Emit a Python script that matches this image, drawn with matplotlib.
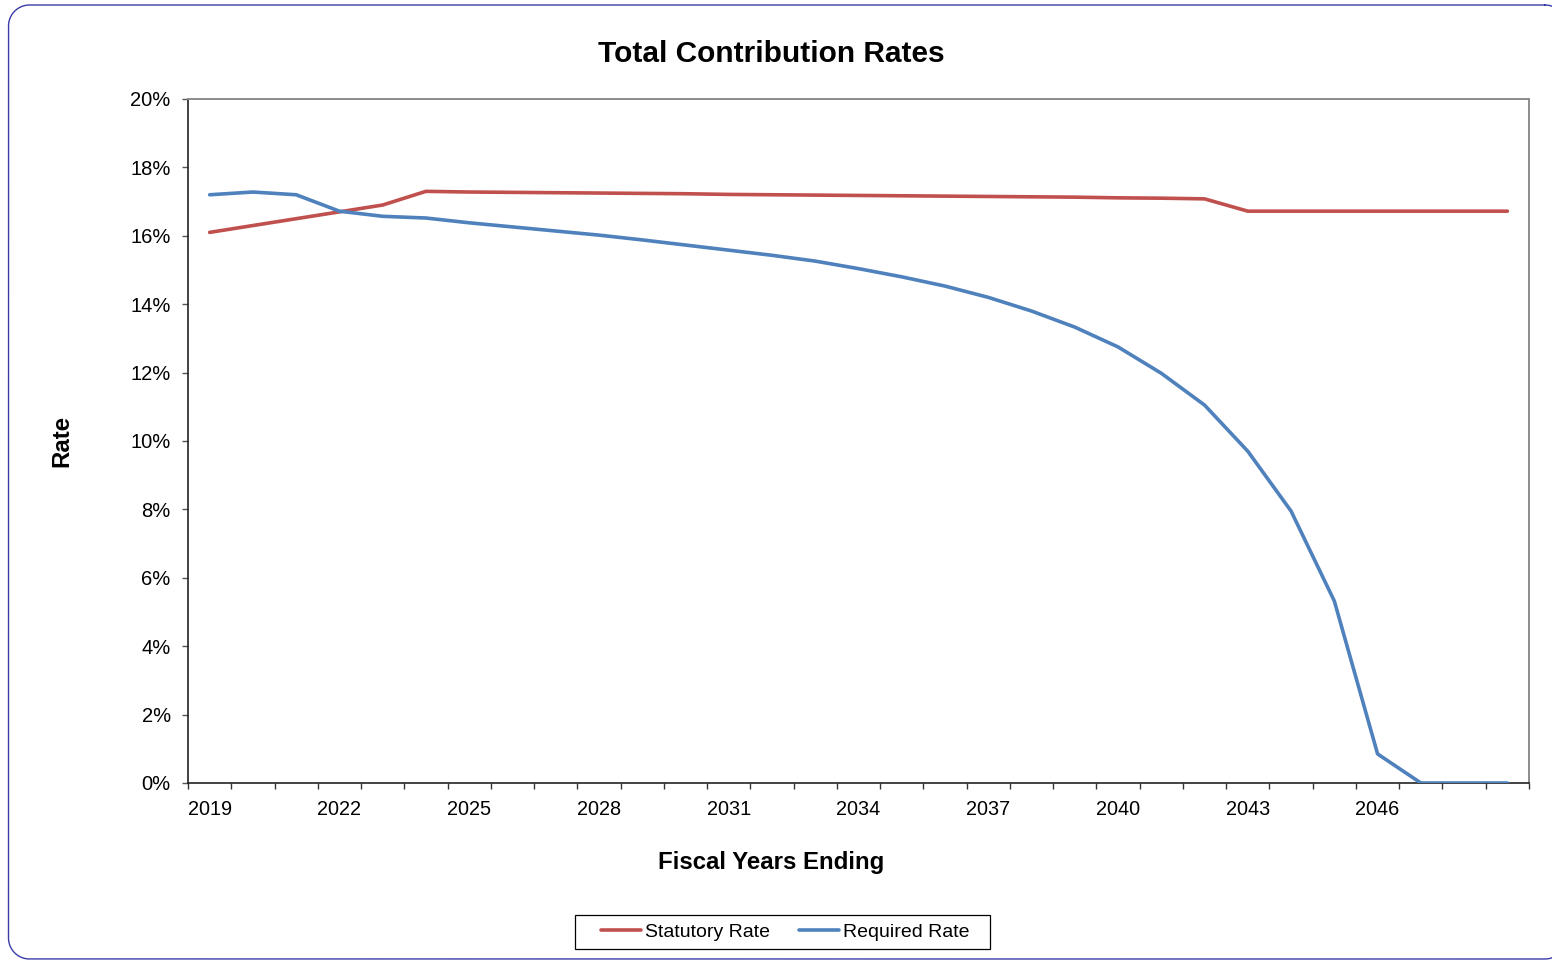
import matplotlib
matplotlib.use("Agg")
import matplotlib.pyplot as plt
from matplotlib.patches import Rectangle
from matplotlib.ticker import FixedLocator, FuncFormatter
import numpy as np

plt.rcParams['font.family'] = ['Liberation Sans', 'DejaVu Sans']

years = list(range(2019, 2050))
statutory_rate = [16.1, 16.3, 16.5, 16.7, 16.9, 17.3, 17.28, 17.27, 17.26, 17.25, 17.24,
                  17.23, 17.21, 17.2, 17.19, 17.18, 17.17, 17.16, 17.15, 17.14, 17.13,
                  17.11, 17.1, 17.08, 16.72, 16.72, 16.72, 16.72, 16.72, 16.72, 16.72]
required_rate = [17.2, 17.28, 17.2, 16.72, 16.57, 16.52, 16.38, 16.26, 16.14, 16.02, 15.88,
                 15.73, 15.58, 15.43, 15.26, 15.04, 14.8, 14.53, 14.2, 13.8, 13.33,
                 12.75, 11.98, 11.05, 9.7, 7.95, 5.32, 0.85, 0.0, 0.0, 0.0]
series_names = ["Statutory Rate", "Required Rate"]
tick_years = list(range(2019, 2047, 3))

W, H = 1552, 961
fig = plt.figure(figsize=(W / 100, H / 100), dpi=100)
fig.patch.set_facecolor("white")

# rounded outer frame in pixel units; its right side runs past the canvas edge
frame_ax = fig.add_axes([0, 0, 1, 1], zorder=-1)
frame_ax.set_xlim(0, W)
frame_ax.set_ylim(H, 0)
frame_ax.axis("off")


def rounded_outline(x0, y0, x1, y1, r, n=40):
    pts = []
    corners = [((x1 - r, y0 + r), -90, 0), ((x1 - r, y1 - r), 0, 90),
               ((x0 + r, y1 - r), 90, 180), ((x0 + r, y0 + r), 180, 270)]
    for (cx, cy), a0, a1 in corners:
        t = np.radians(np.linspace(a0, a1, n))
        pts.append(np.column_stack([cx + r * np.cos(t), cy + r * np.sin(t)]))
    pts.append(pts[0][:1])
    return np.vstack(pts)


outline = rounded_outline(8.5, 5.0, 1566.0, 959.0, 21.0)
outline[outline[:, 0] > W + 1, :] = np.nan
frame_ax.plot(outline[:, 0], outline[:, 1], color="#3b3ba8", lw=1.0)

ax = fig.add_axes([188 / W, 1 - 783 / H, (1529 - 188) / W, (783 - 99) / H])
ax.set_facecolor("none")

x = np.arange(len(years))
ax.plot(x, statutory_rate, color="#C0504D", lw=2.6, label=series_names[0],
        solid_capstyle="round", solid_joinstyle="round", zorder=3)
ax.plot(x, required_rate, color="#4F81BD", lw=2.6, label=series_names[1],
        solid_capstyle="round", solid_joinstyle="round", zorder=3)

ax.set_xlim(-0.5, len(years) - 0.5)
ax.set_ylim(0, 20)

# category labels every third year, tick marks between categories
ax.xaxis.set_major_locator(FixedLocator([years.index(y) for y in tick_years]))
ax.set_xticklabels([str(y) for y in tick_years])
ax.xaxis.set_minor_locator(FixedLocator(np.arange(-0.5, len(years), 1.0)))
ax.tick_params(axis="x", which="major", length=0, pad=12.5, labelsize=14.3)
ax.tick_params(axis="x", which="minor", length=4.5, width=1.0, color="#333333", direction="out")

ax.yaxis.set_major_locator(FixedLocator(np.arange(0, 21, 2)))
ax.yaxis.set_major_formatter(FuncFormatter(lambda v, p: f"{v:.0f}%"))
ax.tick_params(axis="y", which="major", length=4.5, width=1.0, color="#555555",
               direction="out", pad=8, labelsize=14.5)

for side in ("top", "right"):
    ax.spines[side].set_color("#8c8c8c")
    ax.spines[side].set_linewidth(1.4)
for side in ("left", "bottom"):
    ax.spines[side].set_color("#222222")
    ax.spines[side].set_linewidth(1.2)

fig.text(771 / W, 1 - 54 / H, "Total Contribution Rates", ha="center", va="center",
         fontsize=21.5, fontweight="bold")
fig.text(771 / W, 1 - 862 / H, "Fiscal Years Ending", ha="center", va="center",
         fontsize=17.3, fontweight="bold")
fig.text(62 / W, 1 - 441 / H, "Rate", ha="center", va="center", rotation=90,
         fontsize=17.3, fontweight="bold")

# legend box
fig.patches.append(Rectangle((575 / W, 1 - 949 / H), (990 - 575) / W, 34 / H,
                             transform=fig.transFigure, facecolor="white",
                             edgecolor="#000000", linewidth=0.9, zorder=1))
leg = fig.legend(loc="center", bbox_to_anchor=(785 / W, 1 - 932 / H), ncol=2,
                 fontsize=14, frameon=False, handlelength=2.05,
                 handletextpad=0.2, columnspacing=1.5, borderpad=0.2)
leg.set_zorder(2)

fig.savefig("out.png", dpi=100)
